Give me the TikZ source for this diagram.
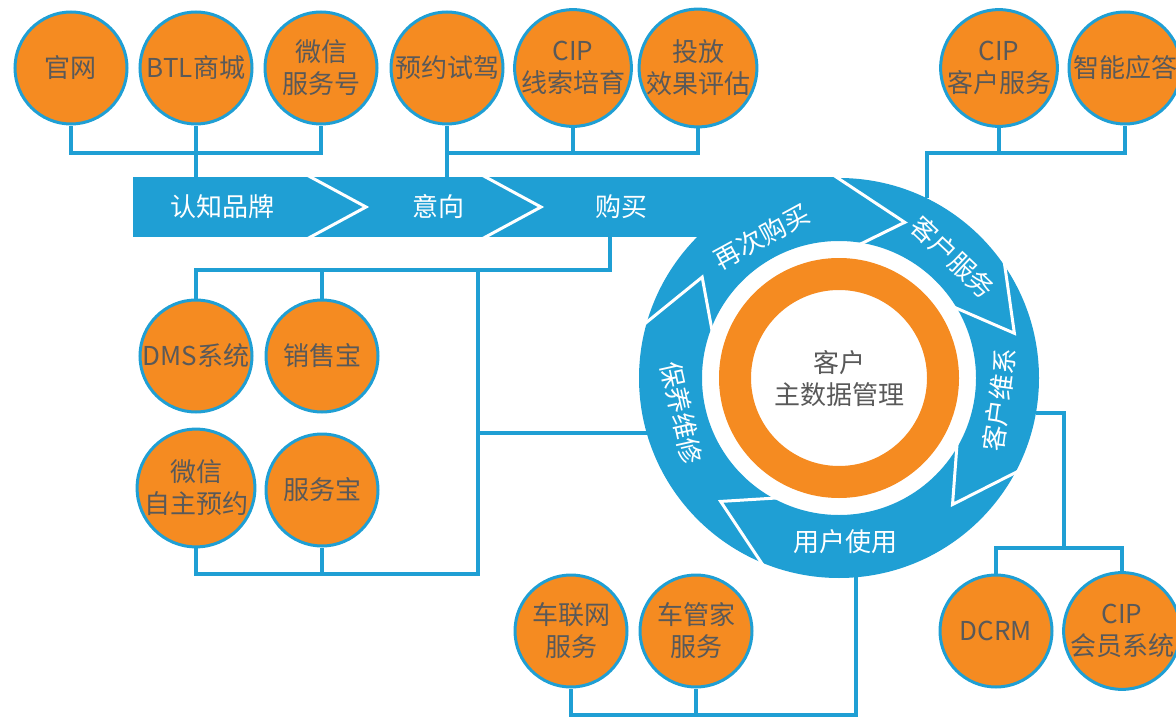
\documentclass[tikz,border=0pt]{standalone}
\usepackage{fontspec}
\setmainfont{Noto Sans CJK SC}
\definecolor{cipblue}{RGB}{31,159,212}
\definecolor{ciporange}{RGB}{245,139,33}
\definecolor{cipgrey}{RGB}{89,89,89}
\tikzset{
  hub/.style={circle, draw=cipblue, line width=3pt, fill=ciporange, minimum size=112pt,
    inner sep=0pt, text=cipgrey, align=center, font=\fontsize{26}{32}\selectfont},
  link/.style={draw=cipblue, line width=4pt},
  chev/.style={draw=white, line width=3pt},
  stage/.style={text=white, align=center, font=\fontsize{26}{32}\selectfont},
}
\begin{document}
\begin{tikzpicture}[x=1pt,y=-1pt]
\useasboundingbox (0,0) rectangle (1176,717);

% blue band and cycle
\fill[cipblue] (133,177) rectangle (839,237);
\fill[cipblue, even odd rule] (839,378) circle (200) (839,378) circle (137);
\fill[ciporange, even odd rule] (839,378) circle (120) (839,378) circle (88);
\node[circle, minimum size=400pt, inner sep=0pt, outer sep=0pt] (ring) at (839,378) {};
\draw[chev] (305,174) -- (366,207) -- (305,240);
\draw[chev] (480,174) -- (541,207) -- (480,240);
\begin{scope}[shift={(839,378)}]
\foreach \a/\t/\r/\b in {165.3/143.6/170/159.9, 92/67.1/169/81.3, 36.2/14.3/181/31.7,
    -26.7/-48.1/170/-29, 248.7/226.2/171/242.7}
    \draw[chev] (-\a:204) -- (-\t:\r) -- (-\b:135);
\node[stage, rotate=28.6] (zc) at (-118.6:161) {再次购买};
\node[stage, rotate=-43.3] (kh) at (-46.7:166) {客户服务};
\node[stage, rotate=82.2] (wx2) at (7.8:162) {客户维系};
\node[stage] (sy) at (6,164) {用户使用};
\node[stage, rotate=-77.4] (by) at (-192.6:161) {保养维修};
\end{scope}
\node[text=cipgrey, align=center, font=\fontsize{26}{32}\selectfont] (core) at (839,379) {客户\\主数据管理};

\node[stage] (s1) at (222,207) {认知品牌};
\node[stage] (s2) at (438,207) {意向};
\node[stage] (s3) at (621,207) {购买};

% circles
\node[hub] (gw) at (71,68) {官网};
\node[hub] (btl) at (196,68) {BTL商城};
\node[hub] (wxf) at (321,68) {微信\\服务号};
\node[hub] (yy) at (447,68) {预约试驾};
\node[hub] (xs) at (573,68) {CIP\\线索培育};
\node[hub] (tf) at (698,68) {投放\\效果评估};
\node[hub] (kf) at (999,68) {CIP\\客户服务};
\node[hub] (zn) at (1125,68) {智能应答};
\node[hub] (dms) at (196,356) {DMS系统};
\node[hub] (xsb) at (322,356) {销售宝};
\node[hub] (wxyy) at (196,488) {微信\\自主预约};
\node[hub] (fwb) at (322,490) {服务宝};
\node[hub] (clw) at (571,631) {车联网\\服务};
\node[hub] (cgj) at (696,631) {车管家\\服务};
\node[hub] (dcrm) at (996,631) {DCRM};
\node[hub] (hy) at (1122,631) {CIP\\会员系统};

% connectors
\coordinate (topbus) at (0,153);
\coordinate (bandtop) at (0,177);
\coordinate (buy) at (610,237);
\coordinate (lbus) at (0,270);
\coordinate (lt) at (478,270);
\coordinate (lb) at (478,574);
\coordinate (bot) at (0,715);
\coordinate (rj) at (1064,548);
\draw[link] (gw.south) |- (wxf.south |- topbus) -- (wxf.south);
\draw[link] (btl.south) -- (btl.south |- bandtop);
\draw[link] (yy.south) |- (tf.south |- topbus) -- (tf.south);
\draw[link] (xs.south) -- (xs.south |- topbus);
\draw[link] (yy.south) -- (yy.south |- bandtop);
\draw[link] (ring.64) |- (zn.south |- topbus) -- (zn.south);
\draw[link] (kf.south) -- (kf.south |- topbus);
\draw[link] (buy) |- (dms.north |- lbus) -- (dms.north);
\draw[link] (xsb.north) -- (xsb.north |- lbus);
\draw[link] (lt) -- (lb) -| (wxyy.south);
\draw[link] (fwb.south) -- (fwb.south |- lb);
\draw[link] (ring.196) -- (ring.196 -| lt);
\draw[link] (ring.275) |- (clw.south |- bot) -- (clw.south);
\draw[link] (cgj.south) -- (cgj.south |- bot);
\draw[link] (ring.350) -| (rj);
\draw[link] (dcrm.north) |- (hy.north |- rj) -- (hy.north);
\end{tikzpicture}
\end{document}
